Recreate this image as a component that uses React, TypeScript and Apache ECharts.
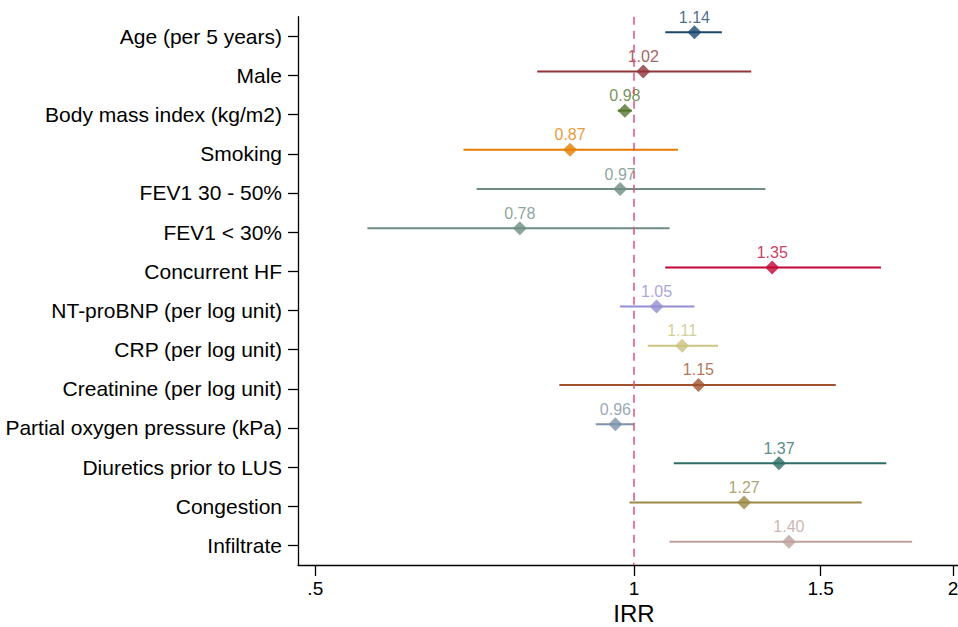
import React, { useEffect, useRef } from "react";
import * as echarts from "echarts";

const categories = [
  "Age (per 5 years)",
  "Male",
  "Body mass index (kg/m2)",
  "Smoking",
  "FEV1 30 - 50%",
  "FEV1 < 30%",
  "Concurrent HF",
  "NT-proBNP (per log unit)",
  "CRP (per log unit)",
  "Creatinine (per log unit)",
  "Partial oxygen pressure (kPa)",
  "Diuretics prior to LUS",
  "Congestion",
  "Infiltrate",
];
const irr = [1.14, 1.02, 0.98, 0.87, 0.97, 0.78, 1.35, 1.05, 1.11, 1.15, 0.96, 1.37, 1.27, 1.4];
const ciLow = [1.07, 0.81, 0.965, 0.69, 0.71, 0.56, 1.07, 0.97, 1.03, 0.85, 0.92, 1.09, 0.99, 1.08];
const ciHigh = [1.21, 1.29, 0.995, 1.1, 1.33, 1.08, 1.71, 1.14, 1.2, 1.55, 1.0, 1.73, 1.64, 1.83];
const colors = [
  "#1a476f",
  "#90353b",
  "#55752f",
  "#e37e00",
  "#6e8e84",
  "#6e8e84",
  "#c10534",
  "#938dd2",
  "#cac27e",
  "#a0522d",
  "#7b92a8",
  "#2d6d66",
  "#9c8847",
  "#bfa19c",
];
const xTicks = [0.5, 1, 1.5, 2];
const refValue = 1;

const FONT = "'Liberation Sans', Arial, Helvetica, sans-serif";

export default function App() {
  const ref = useRef<HTMLDivElement>(null);

  useEffect(() => {
    document.body.style.margin = "0";
    if (!ref.current) return;
    const chart = echarts.init(ref.current, null, { renderer: "svg" });
    const tickVals = xTicks.map((t) => Math.log(t));

    const option: any = {
      animation: false,
      textStyle: { fontFamily: FONT },
      grid: { left: 298, right: 0, top: 16.7, bottom: 62, containLabel: false, outerBoundsMode: "none" },
      xAxis: {
        type: "value",
        min: -0.7307,
        max: 0.704,
        splitLine: { show: false },
        axisLine: { show: true, onZero: false, lineStyle: { color: "#000", width: 1.3 } },
        axisTick: {
          show: true,
          length: 11,
          customValues: tickVals,
          lineStyle: { color: "#000", width: 1.3 },
        },
        axisLabel: {
          customValues: tickVals,
          fontSize: 19,
          lineHeight: 19,
          color: "#000",
          margin: 14.4,
          fontFamily: FONT,
          formatter: (v: number) => {
            const r = Math.round(Math.exp(v) * 10) / 10;
            return String(r).replace(/^0\./, ".");
          },
        },
        name: "IRR",
        nameLocation: "middle",
        nameMoveOverlap: false,
        nameGap: 38.2,
        nameTextStyle: {
          fontSize: 24,
          lineHeight: 20,
          color: "#000",
          fontFamily: FONT,
          padding: [0, 0, 0, 12],
        },
      },
      yAxis: [
        {
          type: "category",
          data: categories,
          inverse: true,
          boundaryGap: true,
          splitLine: { show: false },
          axisLine: { show: true, onZero: false, lineStyle: { color: "#000", width: 1.3 } },
          axisTick: { show: true, alignWithLabel: true, length: 10, lineStyle: { color: "#000", width: 1.3 } },
          axisLabel: { fontSize: 21, color: "#000", margin: 16, fontFamily: FONT },
        },
        {
          type: "value",
          min: -0.398,
          max: 13.595,
          inverse: true,
          show: false,
          splitLine: { show: false },
        },
      ],
      series: [
        {
          type: "custom",
          yAxisIndex: 1,
          z: 2,
          encode: { x: [0, 1], y: 2 },
          data: categories.map((_, i) => [Math.log(ciLow[i]), Math.log(ciHigh[i]), i]),
          renderItem: (params: any, api: any) => {
            const y = api.value(2);
            const p1 = api.coord([api.value(0), y]);
            const p2 = api.coord([api.value(1), y]);
            return {
              type: "line",
              shape: { x1: p1[0], y1: p1[1], x2: p2[0], y2: p2[1] },
              style: { stroke: colors[params.dataIndex], lineWidth: 2 },
            };
          },
        },
        {
          type: "scatter",
          yAxisIndex: 1,
          z: 3,
          symbol: "diamond",
          symbolSize: 14,
          data: categories.map((_, i) => ({
            value: [Math.log(irr[i]), i],
            itemStyle: { color: colors[i] },
            label: { color: colors[i] },
          })),
          label: {
            show: true,
            position: "top",
            distance: 0,
            fontSize: 16,
            fontFamily: FONT,
            formatter: (p: any) => irr[p.dataIndex].toFixed(2),
          },
        },
        {
          type: "line",
          yAxisIndex: 1,
          z: 4,
          data: [],
          markLine: {
            silent: true,
            symbol: ["none", "none"],
            label: { show: false },
            lineStyle: { color: "#e0507a", type: [8, 6], width: 1.5 },
            data: [{ xAxis: Math.log(refValue) }],
          },
        },
      ],
    };
    chart.setOption(option);
    return () => chart.dispose();
  }, []);

  return <div ref={ref} style={{ width: 958, height: 627 }} />;
}
